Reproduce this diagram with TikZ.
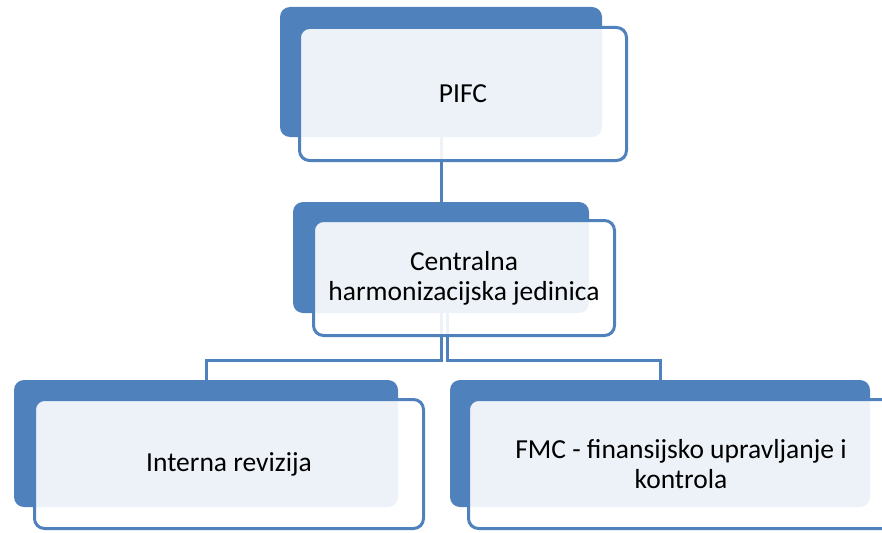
\documentclass[tikz,border=0pt]{standalone}
\usepackage{fontspec}
\setmainfont{Carlito}
\usetikzlibrary{backgrounds}
\definecolor{accent}{HTML}{4F81BD}
\tikzset{
  backbox/.style={fill=accent, rounded corners=10pt, inner sep=0pt},
  frontbox/.style={draw=accent, line width=3pt, fill=white, fill opacity=0.9, text opacity=1,
    rounded corners=10pt, align=center, inner sep=0pt,
    font=\fontsize{27.5}{30}\selectfont},
  link/.style={draw=accent, line width=3pt}
}
\begin{document}
\begin{tikzpicture}[x=1pt, y=-1pt]
\clip (0,0) rectangle (882,532);

% back plates
\node[backbox, minimum width=322pt, minimum height=130pt] (pifcback) at (441,72) {};
\node[backbox, minimum width=296pt, minimum height=111pt] (centback) at (441,257.5) {};
\node[backbox, minimum width=384pt, minimum height=127pt] (intback) at (206,443.5) {};
\node[backbox, minimum width=420pt, minimum height=127pt] (fmcback) at (660,443.5) {};

% front boxes
\node[frontbox, minimum width=327pt, minimum height=133pt] (pifc) at (463,94) {PIFC};
\node[frontbox, minimum width=301pt, minimum height=115pt] (central) at (464,278) {Centralna\\harmonizacijska jedinica};
\node[frontbox, minimum width=389pt, minimum height=129pt] (interna) at (229,464) {Interna revizija};
\node[frontbox, minimum width=425pt, minimum height=129pt] (fmc) at (681,464) {FMC - finansijsko upravljanje i\\kontrola};

% connectors
\coordinate (splitl) at (441,360);
\coordinate (splitr) at (447,360);
\begin{scope}[on background layer]
\draw[link] (pifcback.south) -- (centback.north);
\draw[link] (centback.south) -- (splitl) -| (intback.north);
\draw[link] ([xshift=6pt]centback.south) -- (splitr) -| (fmcback.north);
\end{scope}
\end{tikzpicture}
\end{document}
